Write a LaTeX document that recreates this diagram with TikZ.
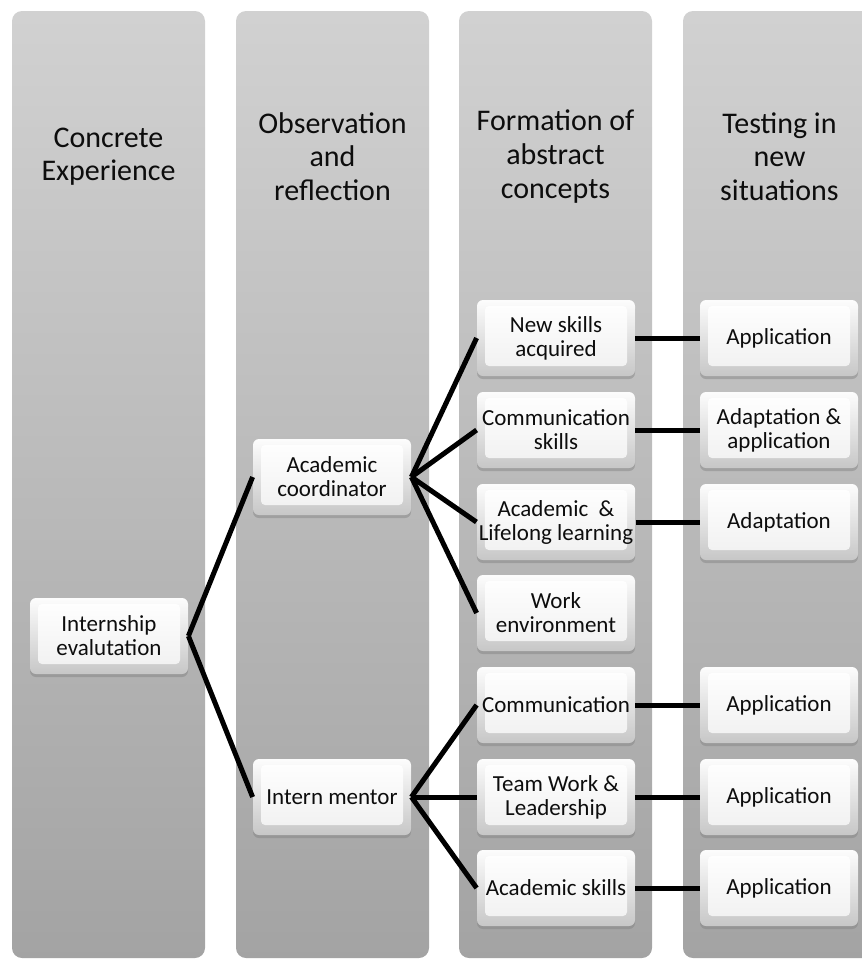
\documentclass[tikz,border=0pt]{standalone}
\usepackage{fontspec}
\setmainfont{Carlito}
\usetikzlibrary{shadows}
\usetikzlibrary{calc}
\tikzstyle{column}=[rounded corners=5pt, minimum width=96.5pt, minimum height=473.5pt, inner sep=0pt, top color=black!18, bottom color=black!36]
\tikzstyle{heading}=[align=center, font=\fontsize{15}{16.8}\selectfont, text=black!95]
\tikzstyle{keybox}=[rounded corners=3pt, minimum width=79pt, minimum height=38pt, inner sep=1pt, align=center, font=\fontsize{11.5}{12}\selectfont, text=black!95, top color=black!1, bottom color=black!22, drop shadow={shadow xshift=0pt, shadow yshift=-1.5pt, opacity=0.45}, path picture={\shade[top color=white, bottom color=black!6, rounded corners=2pt] ($(path picture bounding box.south west)+(4pt,5pt)$) rectangle ($(path picture bounding box.north east)+(-4pt,-3pt)$);}]
\tikzstyle{link}=[line width=2.5pt]

\begin{document}
\begin{tikzpicture}[x=0.5pt, y=0.5pt]

  \useasboundingbox (0,0) rectangle (862,-960);
  \clip (0,0) rectangle (862,-960);

  % the four stages
  \foreach \pos/\name/\txt in {{(108.5,-484.5)/ce/{Concrete\\Experience}}, {(332.5,-484.5)/obs/{Observation\\and\\reflection}}, {(555.5,-484.5)/form/{Formation of\\abstract\\concepts}}, {(779.5,-484.5)/test/{Testing in\\new\\situations}}}
  {
    \node[column] (\name) at \pos {};
    \node[heading] (\name-head) at ($(\name.north)+(0,-146)$) {\txt};
  }

  % boxes
  \node[keybox] (iev) at (109,-636) {Internship\\evalutation};
  \node[keybox] (acad) at (332,-477) {Academic\\coordinator};
  \node[keybox] (ment) at (332,-797) {Intern mentor};

  \foreach \pos/\name/\txt in {{(556,-338)/nsk/{New skills\\acquired}}, {(556,-430)/csk/{Communication\\skills}}, {(556,-522)/all/{Academic\ \ \&\\Lifelong learning}}, {(556,-613)/wen/{Work\\environment}}, {(556,-705)/com/{Communication}}, {(556,-797)/twl/{Team Work \&\\Leadership}}, {(556,-888)/ask/{Academic skills}}}
        \node[keybox] (\name) at \pos {\txt};

  \foreach \pos/\name/\txt in {{(779,-338)/app1/{Application}}, {(779,-430)/aap/{Adaptation \&\\application}}, {(779,-522)/adp/{Adaptation}}, {(779,-705)/app2/{Application}}, {(779,-797)/app3/{Application}}, {(779,-888)/app4/{Application}}}
        \node[keybox] (\name) at \pos {\txt};

  % connectors
  \foreach \source/\dest in {iev/acad, iev/ment, acad/nsk, acad/csk, acad/all, acad/wen, ment/com, ment/twl, ment/ask}
        \draw[link] (\source.east) -- (\dest.west);

  \foreach \source/\dest in {nsk/app1, csk/aap, all/adp, com/app2, twl/app3, ask/app4}
        \draw[link] (\source) -- (\dest);

\end{tikzpicture}
\end{document}
